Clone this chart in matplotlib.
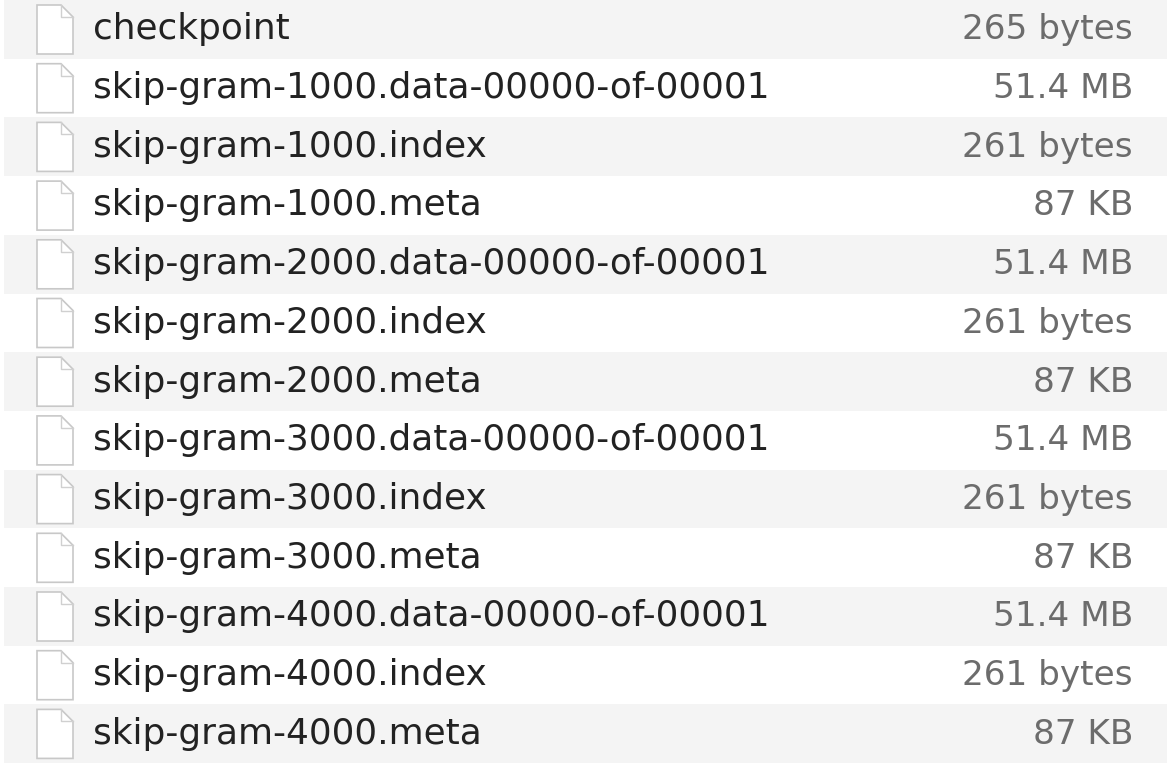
import matplotlib.pyplot as plt
from matplotlib.patches import Polygon

# file listing data
names = [
    "checkpoint",
    "skip-gram-1000.data-00000-of-00001",
    "skip-gram-1000.index",
    "skip-gram-1000.meta",
    "skip-gram-2000.data-00000-of-00001",
    "skip-gram-2000.index",
    "skip-gram-2000.meta",
    "skip-gram-3000.data-00000-of-00001",
    "skip-gram-3000.index",
    "skip-gram-3000.meta",
    "skip-gram-4000.data-00000-of-00001",
    "skip-gram-4000.index",
    "skip-gram-4000.meta",
]
sizes = [
    "265 bytes", "51.4 MB", "261 bytes", "87 KB",
    "51.4 MB", "261 bytes", "87 KB",
    "51.4 MB", "261 bytes", "87 KB",
    "51.4 MB", "261 bytes", "87 KB",
]

W, H = 1174, 768
row_h = 58.7
fig = plt.figure(figsize=(W / 100, H / 100), dpi=100)
ax = fig.add_axes([0, 0, 1, 1])
ax.set_xlim(0, W)
ax.set_ylim(H, 0)
ax.axis("off")

rows = list(range(len(names)))
centers = [row_h * (i + 0.5) for i in rows]
stripe_colors = ["#f4f4f4" if i % 2 == 0 else "white" for i in rows]
ax.barh(centers, 1163, height=row_h, left=4, color=stripe_colors, zorder=0)

for i, y in zip(rows, centers):
    top = y - row_h / 2 + 5
    x0, x1, fold = 37, 73, 12
    pts = [(x0, top), (x1 - fold, top), (x1, top + fold), (x1, top + 49), (x0, top + 49)]
    ax.add_patch(Polygon(pts, closed=True, facecolor="white", edgecolor="#c8c8c8", lw=1.2, zorder=2))
    ax.plot([x1 - fold, x1 - fold, x1], [top, top + fold, top + fold], color="#d0d0d0", lw=1.0, zorder=3)
    ax.text(93, y + 10, names[i], fontsize=25.8, family="DejaVu Sans", color="#222222",
            va="baseline", ha="left")
    ax.text(1133, y + 10, sizes[i], fontsize=24.7, family="DejaVu Sans", color="#6c6c6c",
            va="baseline", ha="right")

fig.savefig("out.png", dpi=100)
